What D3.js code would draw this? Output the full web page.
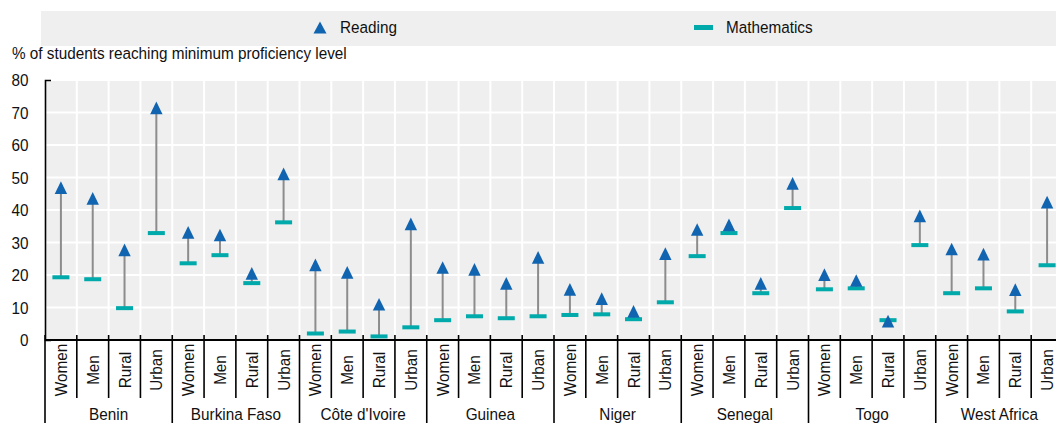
<!DOCTYPE html>
<html>
<head>
<meta charset="utf-8">
<script src="https://cdn.jsdelivr.net/npm/d3@7"></script>
<style>
  html, body { margin: 0; padding: 0; background: #fff; overflow: hidden; }
  svg { display: block; font-family: "Liberation Sans", Arial, sans-serif; }
</style>
</head>
<body>
<svg id="chart" width="1056" height="423"></svg>
<script>
// ---- Data ----
const countries = ["Benin", "Burkina Faso", "Côte d'Ivoire", "Guinea", "Niger", "Senegal", "Togo", "West Africa"];
const subgroups = ["Women", "Men", "Rural", "Urban"];
const reading = [
  46.8, 43.5, 27.6, 71.3,
  33.0, 32.2, 20.4, 51.0,
  23.0, 20.7, 10.9, 35.6,
  22.2, 21.6, 17.3, 25.3,
  15.5, 12.6, 8.7, 26.5,
  33.9, 35.3, 17.3, 48.1,
  20.0, 18.2, 5.7, 38.1,
  27.9, 26.3, 15.4, 42.3
];
const maths = [
  19.3, 18.7, 9.8, 32.9,
  23.6, 26.1, 17.5, 36.2,
  2.0, 2.6, 1.1, 3.9,
  6.1, 7.3, 6.7, 7.3,
  7.7, 7.9, 6.4, 11.6,
  25.8, 32.9, 14.4, 40.6,
  15.6, 15.9, 6.1, 29.2,
  14.4, 15.9, 8.8, 23.0
];
const yTicks = [0, 10, 20, 30, 40, 50, 60, 70, 80];
const seriesNames = ["Reading", "Mathematics"];
const yTitle = "% of students reaching minimum proficiency level";

(function () {
const rows = [];
countries.forEach((c, ci) => subgroups.forEach((s, si) => {
  const i = ci * 4 + si;
  rows.push({ key: c + "|" + s, country: c, sub: s, reading: reading[i], maths: maths[i] });
}));

const svg = d3.select("#chart");
const pL = 45, pR = 1063, pT = 80, pB = 340;
const READ_COL = "#1164b0", MATH_COL = "#00a9aa", LINE_COL = "#8c8c8c", BG = "#efefef";
const FS = "17px", SX = 0.9, TXT = "#111";

const x = d3.scaleBand().domain(rows.map(d => d.key)).range([pL, pR]).padding(0);
const xg = d3.scaleBand().domain(countries).range([pL, pR]).padding(0);
const y = d3.scaleLinear().domain([0, 80]).range([pB, pT]);

function label(g, tx, ty, str, anchor, rot) {
  return g.append("text")
    .attr("transform", `translate(${tx},${ty})` + (rot ? ` rotate(${rot})` : "") + ` scale(${SX},1)`)
    .attr("text-anchor", anchor || "start").attr("font-size", FS).attr("fill", TXT).text(str);
}

// Legend
const lg = svg.append("g");
lg.append("rect").attr("x", 41).attr("y", 11).attr("width", 1030).attr("height", 35).attr("fill", BG);
lg.append("path").attr("d", "M320,21.5L326.5,33.5L313.5,33.5Z").attr("fill", READ_COL);
label(lg, 340, 33, seriesNames[0]);
lg.append("rect").attr("x", 694).attr("y", 25).attr("width", 19).attr("height", 5).attr("fill", MATH_COL);
label(lg, 726, 33, seriesNames[1]);

// Y title
label(svg, 12, 59, yTitle);

// Plot background
svg.append("rect").attr("x", pL).attr("y", pT).attr("width", pR - pL).attr("height", pB - pT).attr("fill", BG);

// Gridlines
svg.append("g").selectAll("line").data(yTicks.filter(t => t > 0)).join("line")
  .attr("x1", pL).attr("x2", pR).attr("y1", d => y(d)).attr("y2", d => y(d))
  .attr("stroke", "#fff").attr("stroke-width", 2);
svg.append("g").selectAll("line").data(rows.slice(1)).join("line")
  .attr("x1", d => x(d.key)).attr("x2", d => x(d.key)).attr("y1", pT).attr("y2", pB)
  .attr("stroke", "#fff").attr("stroke-width", 2);

// Y axis
const yAxis = d3.axisLeft(y).tickValues(yTicks).tickSize(0).tickSizeOuter(-6).tickPadding(16);
const ya = svg.append("g").attr("transform", `translate(${pL},0)`).call(yAxis);
ya.select(".domain").attr("stroke", "#000").attr("stroke-width", 1.6);
ya.selectAll(".tick text")
  .attr("x", -16.5 / SX).attr("dy", "0.34em")
  .attr("transform", `scale(${SX},1)`)
  .attr("font-size", FS).attr("fill", TXT).attr("font-family", "Liberation Sans, Arial, sans-serif");

// X axis: category ticks and labels
const xa = svg.append("g");
xa.selectAll("line.ct").data(rows).join("line").attr("class", "ct")
  .attr("x1", d => x(d.key)).attr("x2", d => x(d.key))
  .attr("y1", pB - 5).attr("y2", d => d.sub === "Women" ? 423 : 398)
  .attr("stroke", "#000").attr("stroke-width", 1.6);
xa.append("line").attr("x1", pR).attr("x2", pR).attr("y1", pB - 5).attr("y2", 423)
  .attr("stroke", "#000").attr("stroke-width", 1.6);
xa.append("line").attr("x1", pL).attr("x2", pR).attr("y1", pB).attr("y2", pB)
  .attr("stroke", "#000").attr("stroke-width", 1.8);
rows.forEach(d => label(xa, x(d.key) + x.bandwidth() / 2 + 6, 370, d.sub, "middle", -90));
countries.forEach(c => label(xa, xg(c) + xg.bandwidth() / 2, 420, c, "middle"));

// Marks
const marks = svg.append("g");
marks.selectAll("line.conn").data(rows).join("line").attr("class", "conn")
  .attr("x1", d => x(d.key) + x.bandwidth() / 2).attr("x2", d => x(d.key) + x.bandwidth() / 2)
  .attr("y1", d => y(d.maths)).attr("y2", d => y(d.reading))
  .attr("stroke", LINE_COL).attr("stroke-width", 2);
marks.selectAll("rect.m").data(rows).join("rect").attr("class", "m")
  .attr("x", d => x(d.key) + x.bandwidth() / 2 - 8.5).attr("y", d => y(d.maths) - 2)
  .attr("width", 17).attr("height", 4).attr("fill", MATH_COL);
marks.selectAll("path.r").data(rows).join("path").attr("class", "r")
  .attr("transform", d => `translate(${x(d.key) + x.bandwidth() / 2},${y(d.reading)})`)
  .attr("d", "M0,-6.7L6.2,6L-6.2,6Z").attr("fill", READ_COL);
})();
</script>
</body>
</html>
